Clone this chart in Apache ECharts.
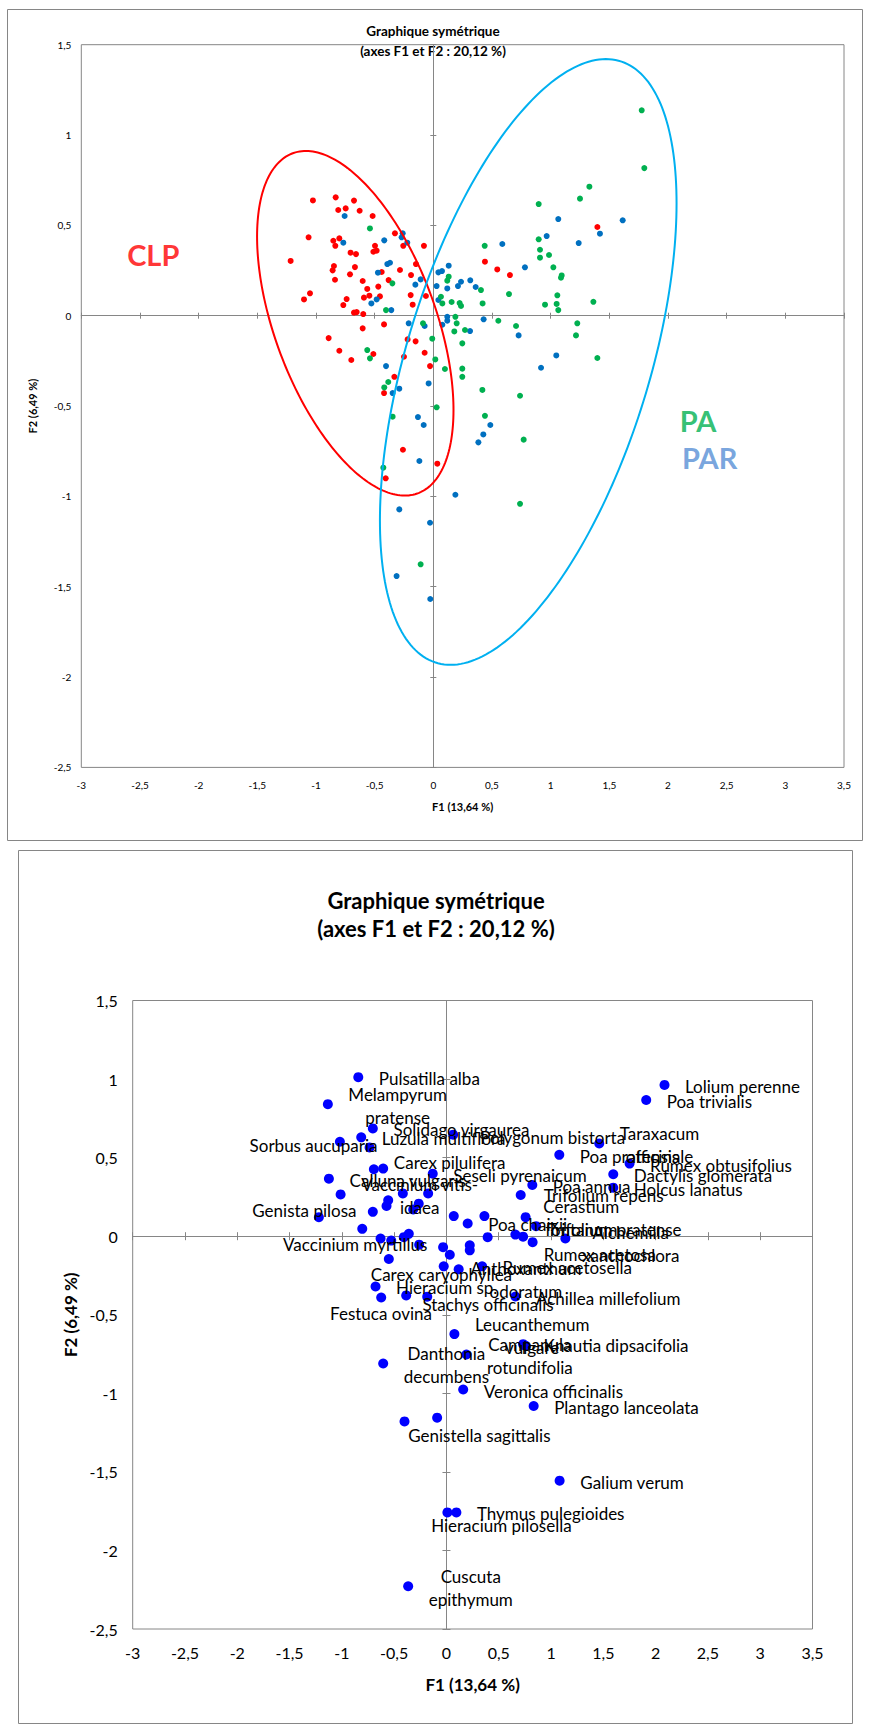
<!DOCTYPE html>
<html>
<head>
<meta charset="utf-8">
<script src="https://cdn.jsdelivr.net/npm/echarts@6/dist/echarts.min.js"></script>
<style>
  html, body { margin: 0; padding: 0; background: #ffffff; }
  #chart { width: 870px; height: 1731px; }
</style>
</head>
<body>
<div id="chart"></div>
<script>
// ---- Site scores on F1 / F2, one array per vegetation group ----
const clpSites = [
  [-1.026,0.638],[-1.063,0.434],[-1.216,0.303],[-1.102,0.090],[-1.051,0.124],[-0.892,-0.124],
  [-0.832,0.655],[-0.676,0.637],[-0.810,0.585],[-0.747,0.594],[-0.628,0.581],[-0.517,0.552],
  [-0.327,0.456],[-0.852,0.415],[-0.801,0.428],[-0.835,0.387],[-0.497,0.387],[-0.256,0.387],
  [-0.080,0.387],[-0.511,0.354],[-0.483,0.360],[-0.705,0.349],[-0.659,0.341],[-0.847,0.275],
  [-0.858,0.251],[-0.668,0.269],[-0.440,0.242],[-0.284,0.253],[-0.148,0.286],[-0.838,0.199],
  [-0.710,0.229],[-0.602,0.192],[-0.190,0.225],[-0.381,0.197],[-0.563,0.148],[-0.469,0.161],
  [-0.739,0.092],[-0.591,0.100],[-0.545,0.111],[-0.455,0.107],[-0.767,0.059],[-0.193,0.114],
  [-0.063,0.109],[-0.176,0.061],[-0.676,0.017],[-0.653,0.020],[-0.597,0.009],[0.440,0.299],
  [0.545,0.256],[0.653,0.225],[-0.602,-0.070],[-0.420,-0.048],[-0.219,-0.131],[-0.151,-0.142],
  [-0.801,-0.194],[-0.511,-0.212],[-0.699,-0.245],[-0.074,-0.205],[-0.250,-0.227],[-0.028,-0.279],
  [-0.332,-0.338],[1.398,0.491],[-0.420,-0.428],[-0.259,-0.742],[0.034,-0.819],[-0.406,-0.900]
];
const parSites = [
  [-0.756,0.552],[-0.261,0.456],[-0.270,0.434],[-0.222,0.404],[-0.767,0.404],[-0.418,0.417],
  [-0.392,0.286],[-0.369,0.293],[-0.472,0.238],[-0.108,0.201],[-0.153,0.172],[-0.528,0.068],
  [-0.483,0.090],[-0.358,0.031],[0.131,0.277],[0.043,0.240],[0.074,0.247],[0.028,0.164],
  [0.119,0.151],[0.210,0.164],[0.236,0.188],[0.315,0.196],[0.361,0.159],[0.043,0.087],
  [0.588,0.397],[0.781,0.268],[0.966,0.441],[1.065,0.535],[0.119,-0.006],[0.119,-0.028],
  [0.077,-0.050],[-0.210,-0.042],[-0.074,-0.057],[0.313,-0.085],[0.429,-0.020],[0.727,-0.109],
  [1.048,-0.220],[0.918,-0.288],[-0.403,-0.279],[1.239,0.402],[1.420,0.454],[1.614,0.528],
  [-0.290,-0.404],[-0.347,-0.428],[-0.040,-0.375],[-0.131,-0.561],[-0.082,-0.605],[0.426,-0.657],
  [0.486,-0.605],[0.384,-0.701],[-0.119,-0.804],[0.188,-0.991],[-0.290,-1.072],[-0.028,-1.146],
  [-0.313,-1.441],[-0.026,-1.568]
];
const paSites = [
  [-0.540,0.483],[-0.349,0.179],[-0.403,0.031],[0.131,0.216],[0.119,0.194],[0.065,0.105],
  [0.077,0.068],[0.156,0.076],[0.224,0.070],[0.236,0.054],[0.406,0.142],[0.420,0.068],
  [0.438,0.387],[0.898,0.618],[0.898,0.423],[0.909,0.365],[0.909,0.321],[0.986,0.336],
  [1.023,0.268],[0.645,0.120],[0.952,0.061],[1.051,0.065],[1.065,0.031],[1.057,0.113],
  [0.188,-0.006],[0.199,-0.042],[0.179,-0.087],[0.270,-0.079],[0.247,-0.153],[0.554,-0.028],
  [0.705,-0.057],[-0.009,-0.127],[-0.088,-0.042],[-0.563,-0.190],[-0.540,-0.236],[0.017,-0.242],
  [0.099,-0.295],[0.247,-0.293],[0.247,-0.338],[1.776,1.137],[1.798,0.817],[1.330,0.714],
  [1.250,0.648],[1.094,0.223],[1.088,0.210],[1.364,0.077],[1.227,-0.042],[1.216,-0.109],
  [1.398,-0.234],[-0.384,-0.367],[-0.418,-0.397],[0.028,-0.507],[0.418,-0.411],[0.440,-0.554],
  [0.739,-0.443],[0.770,-0.686],[-0.347,-0.559],[-0.426,-0.841],[-0.108,-1.376],[0.739,-1.041]
];

// ---- Group ellipses: centre and two conjugate semi-axes (axis units) ----
const ellipseCentres = [[-0.665,-0.042],[0.809,-0.256]];
const ellipseAxisU   = [[0.837,-0.480],[1.264,0.878]];
const ellipseAxisV   = [[0.000,0.824],[0.000,1.428]];

// ---- Group names ----
const groupNames = ['CLP','PA','PAR'];
const groupNameAnchor = [[-2.387,0.341],[2.257,-0.580],[2.355,-0.782]];

// ---- Species scores on F1 / F2 ----
const speciesNames = [
  'Pulsatilla alba','Melampyrum pratense','Solidago virgaurea','Luzula multiflora','Sorbus aucuparia','',
  'Polygonum bistorta','Carex pilulifera','','Calluna vulgaris','Seseli pyrenaicum','Vaccinium vitis-idaea',
  '','','','','','','','Genista pilosa','','Poa chaixii','Vaccinium myrtillus',
  '','','','','','','','','','','Carex caryophyllea','Anthoxanthum odoratum','Hieracium sp.',
  'Festuca ovina','','Stachys officinalis','Lolium perenne','Poa trivialis','Taraxacum officinale',
  'Poa pratensis','Rumex obtusifolius','Dactylis glomerata','Holcus lanatus','Poa annua','Trifolium repens',
  '','Cerastium fontanum','Trifolium pratense','','','','Rumex acetosa','Alchemilla xanthochlora',
  'Rumex acetosella','Achillea millefolium','Leucanthemum vulgare','Campanula rotundifolia',
  'Knautia dipsacifolia','','Danthonia decumbens','Veronica officinalis','','Genistella sagittalis',
  'Plantago lanceolata','Galium verum','Hieracium pilosella','Thymus pulegioides','Cuscuta epithymum'
];
const speciesF1 = [
  -0.843,-1.134,-0.704,-0.815,-1.019,-0.735,
  0.064,-0.694,-0.605,-1.124,-0.131,-1.012,
  -0.417,-0.175,-0.557,-0.573,-0.265,-0.318,-0.704,-1.220,0.070,0.203,-0.805,
  -0.630,-0.528,-0.408,-0.360,-0.261,-0.032,0.032,0.223,0.223,-0.551,-0.026,0.117,-0.678,
  -0.624,-0.385,-0.184,2.085,1.910,1.461,
  1.079,1.751,1.595,1.595,0.821,0.710,
  0.363,0.757,0.857,0.394,0.659,0.733,0.824,1.137,
  0.341,0.659,0.076,0.191,
  0.733,0.755,-0.605,0.160,-0.089,-0.401,
  0.834,1.082,0.009,0.095,-0.366
];
const speciesF2 = [
  1.012,0.840,0.686,0.629,0.601,0.565,
  0.646,0.426,0.430,0.366,0.398,0.266,
  0.272,0.272,0.228,0.192,0.207,0.170,0.155,0.121,0.128,0.081,0.047,
  -0.015,-0.028,-0.006,0.015,-0.054,-0.070,-0.118,-0.058,-0.090,-0.145,-0.192,-0.211,-0.320,
  -0.390,-0.377,-0.385,0.963,0.867,0.590,
  0.518,0.462,0.394,0.309,0.326,0.262,
  0.128,0.121,0.064,-0.006,0.010,-0.003,-0.038,-0.015,
  -0.192,-0.384,-0.623,-0.753,
  -0.687,-0.697,-0.810,-0.976,-1.155,-1.179,
  -1.081,-1.556,-1.758,-1.758,-2.228
];

// ---- Label layout for the species plot ----
// names drawn on two lines (first line given)
const twoLineFirst = {
  'Melampyrum pratense': 'Melampyrum', 'Vaccinium vitis-idaea': 'Vaccinium vitis-',
  'Taraxacum officinale': 'Taraxacum', 'Cerastium fontanum': 'Cerastium',
  'Anthoxanthum odoratum': 'Anthoxanthum', 'Alchemilla xanthochlora': 'Alchemilla',
  'Leucanthemum vulgare': 'Leucanthemum', 'Campanula rotundifolia': 'Campanula',
  'Danthonia decumbens': 'Danthonia', 'Cuscuta epithymum': 'Cuscuta'
};
// [anchor, dx, dy] in px from the point: 'l' = text block left edge, 'c' = block centre
const labelDefault = ['l', 20.5, 1.5];
const labelMoved = {
  'Polygonum bistorta': ['l', 27, 2.7], 'Carex pilulifera': ['l', 20, -6.7],
  'Anthoxanthum odoratum': ['l', 11.7, 10.2], 'Cerastium fontanum': ['l', 17.7, 0.5],
  'Trifolium pratense': ['l', 11, 3.4], 'Rumex acetosa': ['l', 11, 12.4],
  'Alchemilla xanthochlora': ['l', 16.7, 5.5], 'Genistella sagittalis': ['l', 3.7, 14],
  'Trifolium repens': ['l', 23, 0.7],
  'Sorbus aucuparia': ['c', -26.3, 3.7], 'Genista pilosa': ['c', -14.5, -6.6],
  'Vaccinium myrtillus': ['c', -7, 15.7], 'Carex caryophyllea': ['c', -2.3, 7.7],
  'Festuca ovina': ['c', -0.2, 15.7], 'Stachys officinalis': ['c', 60.8, 7.5],
  'Hieracium pilosella': ['c', 54, 13.4]
};

const FONT = 'Lato, "Open Sans", sans-serif';
const GREY = '#868686';
const comma = v => String(v).replace('.', ',');

const chart = echarts.init(document.getElementById('chart'), null, { renderer: 'svg' });

function axesFor(gridIndex, dim, cfg) {
  const base = {
    gridIndex, type: 'value', min: dim === 'x' ? -3 : -2.5, max: dim === 'x' ? 3.5 : 1.5,
    interval: 0.5, splitLine: { show: false }
  };
  const labelAxis = Object.assign({}, base, {
    position: dim === 'x' ? 'bottom' : 'left',
    axisLine: { show: false, onZero: false },
    axisTick: { show: false },
    axisLabel: { formatter: comma, color: '#000', fontFamily: FONT, fontSize: cfg.tickSize,
                 margin: dim === 'x' ? cfg.xLabelMargin : cfg.yLabelMargin },
    name: dim === 'x' ? 'F1 (13,64 %)' : 'F2 (6,49 %)',
    nameLocation: 'middle', nameGap: dim === 'x' ? cfg.xNameGap : cfg.yNameGap,
    nameTextStyle: { fontFamily: FONT, fontWeight: 'bold', fontSize: cfg.nameSize, color: '#000' }
  });
  const tickAxis = inside => Object.assign({}, base, {
    axisLine: { show: true, onZero: true, lineStyle: { color: GREY, width: 1 } },
    axisTick: { show: true, inside, length: cfg.tickLen, lineStyle: { color: GREY } },
    axisLabel: { show: false }
  });
  return [labelAxis, tickAxis(false), tickAxis(true)];
}

const topCfg = { tickSize: 10, xLabelMargin: 13, yLabelMargin: 10, nameSize: 11, xNameGap: 34, yNameGap: 43, tickLen: 3 };
const botCfg = { tickSize: 16, xLabelMargin: 15, yLabelMargin: 15, nameSize: 17, xNameGap: 47, yNameGap: 52, tickLen: 4 };

const speciesData = speciesNames.map((n, i) => {
  const lay = labelMoved[n] || labelDefault;
  return {
    name: n,
    value: [speciesF1[i], speciesF2[i]],
    label: {
      position: [5 + lay[1], 5 + lay[2]],
      align: lay[0] === 'c' ? 'center' : 'left',
      verticalAlign: 'middle'
    }
  };
});

const groupColours = ['#ff0000', '#00b050', '#558ed5'];

chart.setOption({
  animation: false,
  graphic: [
    { type: 'rect', shape: { x: 7.5, y: 9.5, width: 855, height: 831 }, style: { fill: 'none', stroke: GREY, lineWidth: 1 }, z: -1 },
    { type: 'rect', shape: { x: 18.5, y: 850.5, width: 834, height: 873 }, style: { fill: 'none', stroke: GREY, lineWidth: 1 }, z: -1 },
    { type: 'text', style: { text: 'Graphique symétrique', x: 433, y: 31, textAlign: 'center', textVerticalAlign: 'middle', font: 'bold 13.5px ' + FONT, fill: '#000' } },
    { type: 'text', style: { text: '(axes F1 et F2 : 20,12 %)', x: 433, y: 51, textAlign: 'center', textVerticalAlign: 'middle', font: 'bold 13.5px ' + FONT, fill: '#000' } },
    { type: 'text', style: { text: 'Graphique symétrique', x: 436, y: 900, textAlign: 'center', textVerticalAlign: 'middle', font: 'bold 22px ' + FONT, fill: '#000' } },
    { type: 'text', style: { text: '(axes F1 et F2 : 20,12 %)', x: 436, y: 928, textAlign: 'center', textVerticalAlign: 'middle', font: 'bold 22px ' + FONT, fill: '#000' } }
  ],
  grid: [
    { left: 81.3, top: 44.7, width: 762.7, height: 722.7, show: true, borderColor: GREY, borderWidth: 1, backgroundColor: 'transparent' },
    { left: 132.7, top: 1000.5, width: 679.8, height: 628.5, show: true, borderColor: GREY, borderWidth: 1, backgroundColor: 'transparent' }
  ],
  xAxis: axesFor(0, 'x', topCfg).concat(axesFor(1, 'x', botCfg)),
  yAxis: axesFor(0, 'y', topCfg).concat(axesFor(1, 'y', botCfg)),
  series: [
    { name: 'CLP', type: 'scatter', xAxisIndex: 0, yAxisIndex: 0, data: clpSites, symbolSize: 6, itemStyle: { color: '#ff0000', opacity: 1 }, z: 2 },
    { name: 'PAR', type: 'scatter', xAxisIndex: 0, yAxisIndex: 0, data: parSites, symbolSize: 6, itemStyle: { color: '#0070c0', opacity: 1 }, z: 2 },
    { name: 'PA', type: 'scatter', xAxisIndex: 0, yAxisIndex: 0, data: paSites, symbolSize: 6, itemStyle: { color: '#00b050', opacity: 1 }, z: 2 },
    {
      name: 'ellipses', type: 'custom', xAxisIndex: 0, yAxisIndex: 0, z: 3, silent: true,
      data: ellipseCentres, encode: { x: 0, y: 1 },
      renderItem(params, api) {
        const i = params.dataIndex;
        const c = ellipseCentres[i], u = ellipseAxisU[i], v = ellipseAxisV[i];
        const pts = [];
        for (let k = 0; k <= 240; k++) {
          const t = k / 240 * Math.PI * 2;
          pts.push(api.coord([
            c[0] + u[0] * Math.cos(t) + v[0] * Math.sin(t),
            c[1] + u[1] * Math.cos(t) + v[1] * Math.sin(t)
          ]));
        }
        return { type: 'polyline', shape: { points: pts }, style: { fill: null, stroke: i === 0 ? '#ff0000' : '#00b0f0', lineWidth: 2 } };
      }
    },
    {
      name: 'groups', type: 'scatter', xAxisIndex: 0, yAxisIndex: 0, z: 4, silent: true,
      symbolSize: 1, itemStyle: { color: 'rgba(0,0,0,0)' },
      data: groupNames.map((n, i) => ({ name: n, value: groupNameAnchor[i], label: { color: groupColours[i] } })),
      label: { show: true, position: 'inside', formatter: '{b}', fontFamily: FONT, fontWeight: 'bold', fontSize: 29, textBorderWidth: 0 }
    },
    {
      name: 'species', type: 'scatter', xAxisIndex: 3, yAxisIndex: 3, symbolSize: 10,
      itemStyle: { color: '#0000ff', opacity: 1 }, data: speciesData,
      label: {
        show: true, color: '#000', textBorderWidth: 0,
        formatter(p) {
          if (!p.name) return '';
          const first = twoLineFirst[p.name];
          const lines = first ? [first, p.name.slice(first.length).trim()] : [p.name];
          return lines.map(l => '{s|' + l + '}').join('\n');
        },
        rich: { s: { align: 'center', fontFamily: FONT, fontSize: 17, lineHeight: 23, color: '#000' } }
      },
      labelLayout: { hideOverlap: false }
    }
  ]
});
</script>
</body>
</html>
